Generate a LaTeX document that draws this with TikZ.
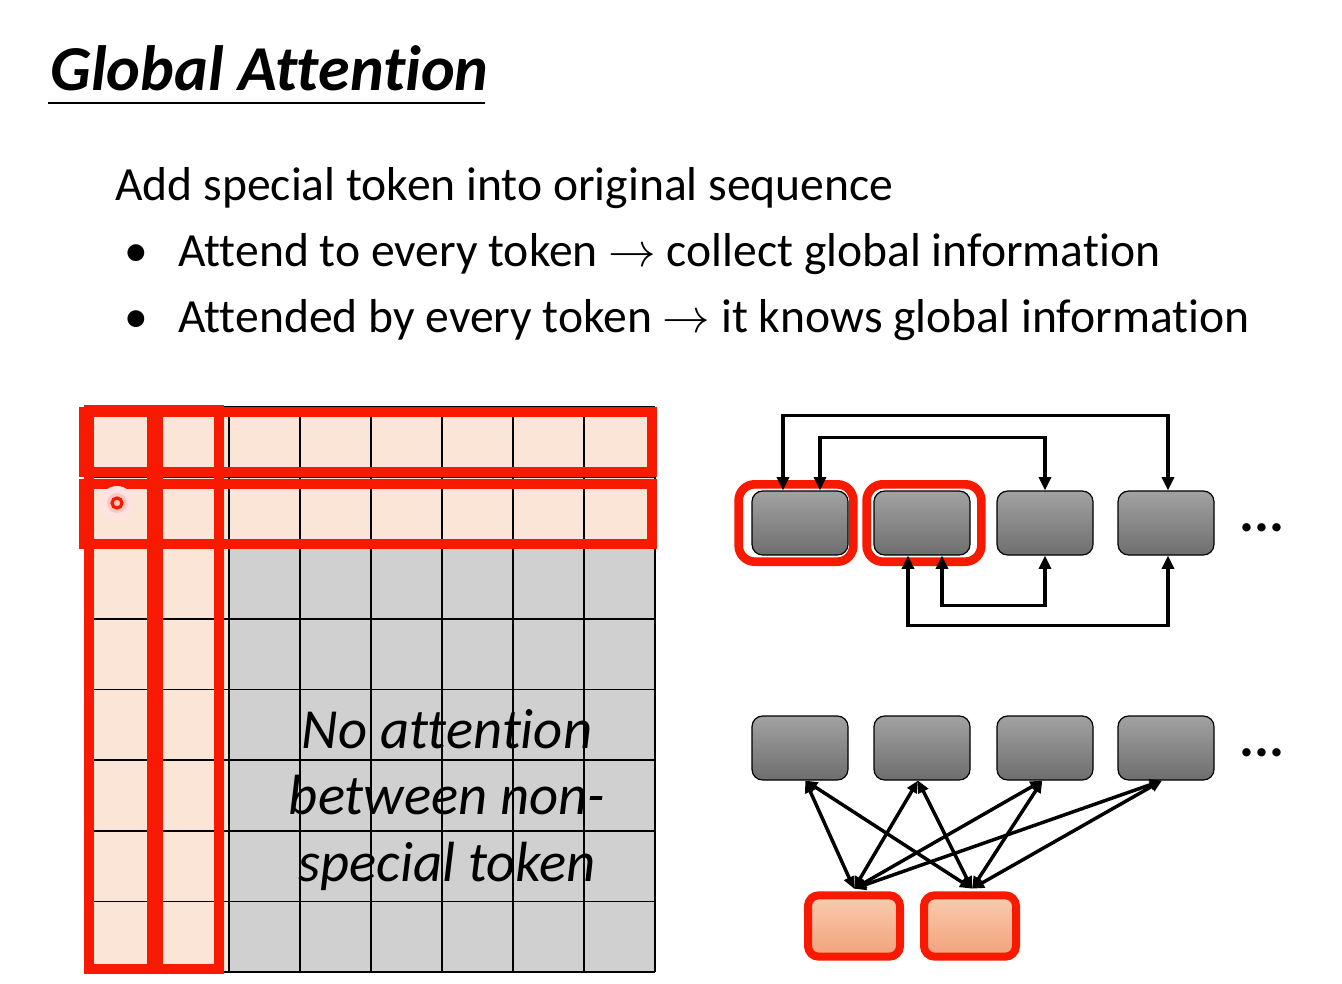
\RequirePackage{fix-cm}
\documentclass[tikz,border=0pt]{standalone}
\usepackage{fontspec}
\setmainfont{Carlito}[Ligatures={NoCommon}]
\usetikzlibrary{arrows.meta}
\definecolor{peach}{HTML}{FBE5D6}
\definecolor{cellgray}{HTML}{D0D0D0}
\definecolor{myred}{HTML}{F81A00}
\definecolor{boxtop}{HTML}{A2A2A2}
\definecolor{boxbot}{HTML}{6E6E6E}
\definecolor{ortop}{HTML}{F9CDB0}
\definecolor{orbot}{HTML}{F2A07A}
\begin{document}
\begin{tikzpicture}[x=0.75pt,y=-0.75pt,
  tok/.style={draw=black, line width=0.9pt, rounded corners=8pt, minimum width=72pt, minimum height=48pt, inner sep=0pt, top color=boxtop, bottom color=boxbot},
  ring/.style={draw=myred, line width=6.5pt, rounded corners=12pt, minimum width=86pt, minimum height=58pt, inner sep=0pt},
  special/.style={draw=myred, line width=6pt, rounded corners=8pt, minimum width=69pt, minimum height=46pt, inner sep=0pt, top color=ortop, bottom color=orbot},
  arr/.style={line width=2.8pt, {Triangle[length=10pt,width=9pt]}-{Triangle[length=10pt,width=9pt]}},
  arrb/.style={line width=2.6pt, {Triangle[length=9pt,width=8pt]}-{Triangle[length=9pt,width=8pt]}},
  body/.style={anchor=base west, inner sep=0pt, font=\fontsize{35.7}{43}\selectfont},
  redbox/.style={draw=myred, line width=7.5pt},
  dots/.style={font=\fontsize{42}{50}\selectfont\bfseries, inner sep=0pt}
]
\useasboundingbox (0,0) rectangle (1342,983);
\fill[white] (0,0) rectangle (1342,983);

% title
\node[anchor=base west, inner sep=0pt, font=\fontsize{48}{56}\selectfont\bfseries\itshape] (title) at (50,90) {Global Attention};
\draw[line width=1.3pt] (48,103) -- (485,103);

% body text
\node[body] (l1) at (115,200) {Add special token into original sequence};
\node[body] (b1) at (124,266) {\textbullet};
\node[body] (l2) at (178,266) {Attend to every token $\rightarrow$ collect global information};
\node[body] (b2) at (124,332) {\textbullet};
\node[body] (l3) at (178,332) {Attended by every token $\rightarrow$ it knows global information};

% grid
\fill[peach] (87,407) rectangle (655,972);
\fill[cellgray] (229,548) rectangle (655,972);
\foreach \i in {0,...,8} {
  \draw[line width=1.2pt] ({87+71*\i},407) -- ({87+71*\i},972);
  \draw[line width=1.2pt] (87,{407+70.625*\i}) -- (655,{407+70.625*\i});
}
\draw[redbox] (84,412) rectangle (652,472);
\draw[redbox] (84,484) rectangle (652,544);
\draw[redbox] (89,410) rectangle (152,969);
\draw[redbox] (158,410) rectangle (219,969);
\fill[myred!12] (117,503) circle (17);
\fill[myred!25] (117,503) circle (10);
\draw[myred, line width=2.4pt] (117,503) circle (5);
\node[align=center, font=\fontsize{42.5}{50}\selectfont\itshape, inner sep=0pt] (gridtext) at (447,800) {No attention\\between non-\\special token};

% top right diagram
\node[ring] (r1) at (796,523) {};
\node[ring] (r2) at (924,523) {};
\node[tok] (t1) at (800,523) {};
\node[tok] (t2) at (922,523) {};
\node[tok] (t3) at (1045,523) {};
\node[tok] (t4) at (1166,523) {};
\node[dots] (d1) at (1262,528) {...};
\draw[arr] ([xshift=-12.75pt]t1.north) -- ++(0,-75) -| ([xshift=1.5pt]t4.north);
\draw[arr] ([xshift=15pt]t1.north) -- ++(0,-53) -| (t3.north);
\draw[arr] ([xshift=-10.5pt]t2.south) -- ++(0,70) -| ([xshift=1.5pt]t4.south);
\draw[arr] ([xshift=15pt]t2.south) -- ++(0,50) -| (t3.south);

% bottom right diagram
\node[tok] (u1) at (800,748) {};
\node[tok] (u2) at (922,748) {};
\node[tok] (u3) at (1045,748) {};
\node[tok] (u4) at (1166,748) {};
\node[dots] (d2) at (1262,753) {...};
\node[special] (o1) at (854,926) {};
\node[special] (o2) at (970,926) {};
\foreach \o/\s in {o1/0pt,o2/1.5pt} {
  \draw[arrb] ([xshift=\s,yshift=2pt]\o.north) -- ([xshift=4pt]u1.south);
  \draw[arrb] ([xshift=\s,yshift=2pt]\o.north) -- ([xshift=-3pt]u2.south);
  \draw[arrb] ([xshift=\s,yshift=2pt]\o.north) -- ([xshift=-2pt]u3.south);
  \draw[arrb] ([xshift=\s,yshift=2pt]\o.north) -- ([xshift=-3pt]u4.south);
}
\end{tikzpicture}
\end{document}
